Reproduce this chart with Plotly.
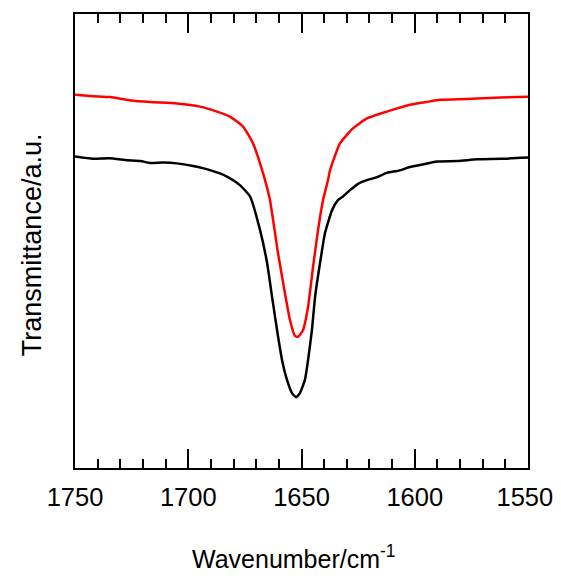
import plotly.graph_objects as go

# Wavenumber (cm^-1) and transmittance (arbitrary units)
black_wn = [1750, 1742.1, 1735.0, 1727.0, 1721.0, 1716.9, 1711.0, 1705.0, 1697.9, 1690.4,
            1682.9, 1677.2, 1672.7, 1668.3, 1665.2, 1663.0, 1660.8, 1658.6, 1656.4,
            1654.2, 1652.4, 1650.7, 1648.5, 1647.1, 1645.4, 1644.0, 1641.8, 1639.6,
            1636.5, 1633.9, 1631.7, 1628.6, 1625.0, 1621.1, 1617.0, 1612.3, 1607.0, 1602.1,
            1596.0, 1590.2, 1581.0, 1572.5, 1562.0, 1550]
black_t = [68.6, 68.1, 68.2, 67.8, 67.6, 67.2, 67.3, 67.1, 66.5, 65.6,
           64.2, 62.3, 59.8, 52.4, 45.2, 37.7, 30.4, 23.8, 19.4,
           16.5, 15.6, 16.5, 19.4, 23.8, 30.4, 37.7, 45.2, 51.8,
           56.8, 59.0, 59.8, 61.2, 62.6, 63.4, 64.0, 65.0, 65.5, 66.3,
           66.9, 67.5, 67.6, 68.0, 68.1, 68.4]

red_wn = [1750, 1742.0, 1734.5, 1726.0, 1716.9, 1705.0, 1694.8, 1687.3, 1681.6, 1675.8,
          1671.4, 1668.3, 1666.1, 1663.9, 1660.4, 1657.3, 1655.1, 1652.9, 1651.5,
          1649.3, 1647.1, 1644.9, 1642.7, 1640.5, 1638.3, 1637.4, 1633.0, 1627.3,
          1621.1, 1612.3, 1602.1, 1595.0, 1588.9, 1581.0, 1572.5, 1562.0, 1550]
red_t = [82.2, 81.9, 81.7, 81.0, 80.6, 80.3, 79.6, 78.5, 77.4, 75.2,
         71.5, 67.1, 63.4, 59.0, 47.4, 38.5, 32.6, 29.1, 28.9,
         30.4, 35.5, 44.3, 52.4, 59.0, 63.4, 65.6, 71.5, 74.8,
         77.0, 78.5, 80.0, 80.6, 81.1, 81.2, 81.4, 81.6, 81.8]

x_ticks = [1750, 1700, 1650, 1600, 1550]
x_tick_labels = ["1750", "1700", "1650", "1600", "1550\u2005"]

FONT = "Liberation Sans, Arial, sans-serif"

fig = go.Figure()
fig.add_trace(go.Scatter(x=black_wn, y=black_t, mode="lines",
                         line=dict(color="black", width=2.5, shape="spline", smoothing=0.5),
                         showlegend=False))
fig.add_trace(go.Scatter(x=red_wn, y=red_t, mode="lines",
                         line=dict(color="#FF0000", width=2.5, shape="spline", smoothing=0.5),
                         showlegend=False))

fig.update_layout(
    width=553, height=563,
    margin=dict(l=67, r=33, t=6, b=103),
    paper_bgcolor="white", plot_bgcolor="white",
    font=dict(family=FONT, color="black", size=26),
    xaxis=dict(
        range=[1750, 1550], tickvals=x_ticks, ticktext=x_tick_labels,
        ticks="inside", ticklen=19, tickwidth=2, tickcolor="black",
        showline=True, linewidth=2, linecolor="black", mirror="ticks",
        showgrid=False, zeroline=False, automargin=False,
        tickfont=dict(size=25.5, family=FONT, color="black"),
        ticklabelstandoff=5, ticklabeloverflow="allow",
        minor=dict(dtick=10, tick0=1550, ticks="inside", ticklen=9, tickwidth=2,
                   tickcolor="black", showgrid=False),
    ),
    yaxis=dict(
        range=[0, 100], showticklabels=False, ticks="",
        showline=True, linewidth=2, linecolor="black", mirror=True,
        showgrid=False, zeroline=False, automargin=False,
    ),
    annotations=[
        dict(text="Wavenumber/cm<sup>-1</sup>", xref="paper", yref="paper",
             x=0.4834, y=-0.157, xanchor="center", yanchor="top", showarrow=False,
             font=dict(size=25, family=FONT, color="black")),
        dict(text="Transmittance/a.u.", xref="paper", yref="paper",
             x=-0.1325, y=0.493, xanchor="left", yanchor="middle", textangle=-90,
             showarrow=False, font=dict(size=27, family=FONT, color="black")),
    ],
)

fig.write_html("out.html")
